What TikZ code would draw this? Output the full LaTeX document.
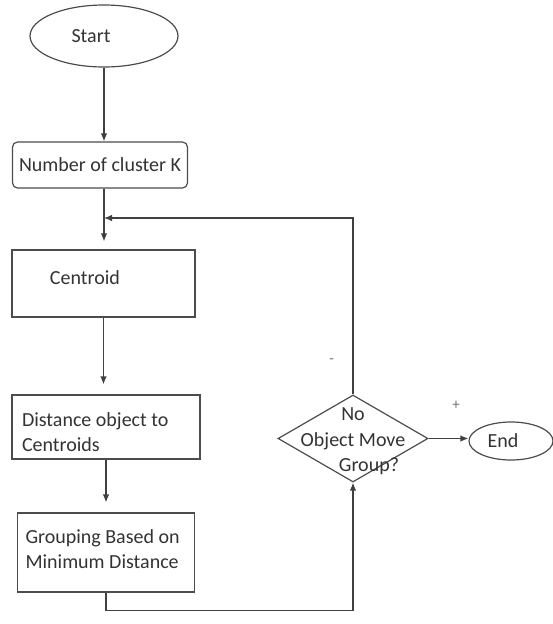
\documentclass[tikz,border=0pt]{standalone}
\usepackage{fontspec}
\setmainfont{Carlito}
\usetikzlibrary{positioning,shapes.geometric,arrows.meta}

\begin{document}
\begin{tikzpicture}[x=1pt,y=1pt,on grid,>={Latex[length=8pt,width=6.5pt]},
  every node/.style={font=\fontsize{20}{25.5}\selectfont,text=black!80},
  terminal/.style={draw=black!70,line width=1.2pt,shape=ellipse,inner sep=0pt},
  process/.style={draw=black!70,line width=1.2pt,rectangle,align=flush left,inner ysep=7pt},
  decision/.style={draw=black!70,line width=1.2pt,shape=diamond,inner sep=0pt,minimum width=150pt,minimum height=87pt},
  flow/.style={draw=black!75,line width=1.2pt},
  sign/.style={font=\fontsize{15}{17}\selectfont,text=black!55}]
  \useasboundingbox (0,0) rectangle (552,-624);

  \node[terminal,minimum width=148pt,minimum height=62pt] (start) at (104,-36) {Start\hspace*{26pt}};
  \node[process,rounded corners=5pt,minimum width=175pt,minimum height=46pt,inner sep=4pt]
       (num)  [below=129pt of start,xshift=-4pt]  {Number of cluster K};
  \node[process,text width=175pt,inner sep=4pt,text height=30pt,text depth=29pt]
       (cen)  [below=118.5pt of num,xshift=3.5pt] {\hspace*{34pt}Centroid};
  \node[process,text width=168pt,inner xsep=10pt,text height=24pt,text depth=26pt]
       (dist) [below=143.5pt of cen,xshift=2.5pt] {Distance object to\\Centroids};
  \node[process,text width=161pt,inner xsep=8pt,text height=23pt,text depth=42pt]
       (grp)  [below=125.5pt of dist]             {Grouping Based on\\Minimum Distance};
  \node[decision,label={[name=qtext,align=center,yshift=-3pt]center:{No\\Object Move\hspace*{14pt}\\\hspace*{32pt}Group?}}]
       (dec)  [right=247pt of dist,yshift=-11.5pt] {};
  \node[terminal,minimum width=84pt,minimum height=38pt]
       (stop) [right=158pt of dec,yshift=-2.5pt]  {End\hspace*{16pt}};

  \coordinate (join) at (104,-218);

  \draw[flow,->] (start.south) -- (num.north -| start.south);
  \draw[flow,->,shorten >=8pt] (num.south -| join) -- (cen.north -| join);
  \draw[flow,->,shorten >=10pt] (cen.south) -- (dist.north -| cen.south);
  \draw[flow,->,shorten >=10pt] (dist.south) -- (grp.north -| dist.south);
  \draw[flow,->] (grp.south) -- ++(0,-18) -| (dec.south);
  \draw[flow,->] (dec.east) -- node[sign,pos=0.69,above=25pt] {+} (dec.east -| stop.west);
  \draw[flow,->] (dec.north) |- node[sign,pos=0.093,left=15pt] {-} (join);
\end{tikzpicture}
\end{document}
